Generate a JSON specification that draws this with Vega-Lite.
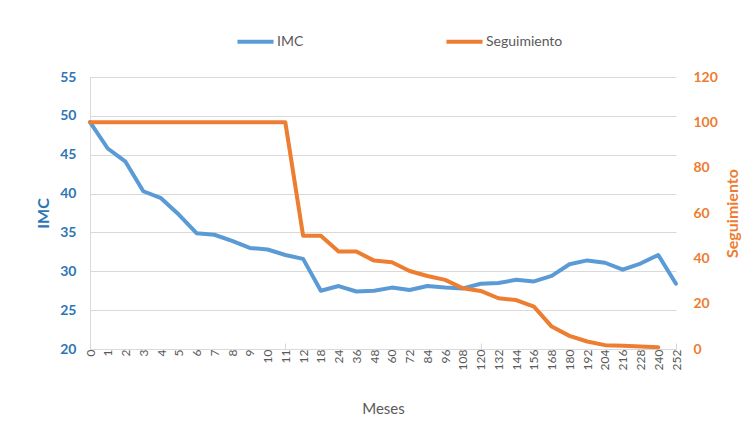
{
  "$schema": "https://vega.github.io/schema/vega-lite/v6.json",
  "width": 586,
  "height": 272,
  "autosize": {"type": "none"},
  "padding": {"left": 90, "top": 77, "right": 77, "bottom": 86},
  "background": "white",
  "config": {
    "font": "Lato",
    "view": {"stroke": null}
  },
  "data": {
    "values": [
      {"mes": "0", "IMC": 49.2, "Seguimiento": 100},
      {"mes": "1", "IMC": 45.8, "Seguimiento": 100},
      {"mes": "2", "IMC": 44.1, "Seguimiento": 100},
      {"mes": "3", "IMC": 40.3, "Seguimiento": 100},
      {"mes": "4", "IMC": 39.4, "Seguimiento": 100},
      {"mes": "5", "IMC": 37.3, "Seguimiento": 100},
      {"mes": "6", "IMC": 34.9, "Seguimiento": 100},
      {"mes": "7", "IMC": 34.7, "Seguimiento": 100},
      {"mes": "8", "IMC": 33.9, "Seguimiento": 100},
      {"mes": "9", "IMC": 33.0, "Seguimiento": 100},
      {"mes": "10", "IMC": 32.8, "Seguimiento": 100},
      {"mes": "11", "IMC": 32.1, "Seguimiento": 100},
      {"mes": "12", "IMC": 31.6, "Seguimiento": 50},
      {"mes": "18", "IMC": 27.5, "Seguimiento": 50},
      {"mes": "24", "IMC": 28.1, "Seguimiento": 43},
      {"mes": "36", "IMC": 27.4, "Seguimiento": 43},
      {"mes": "48", "IMC": 27.5, "Seguimiento": 39},
      {"mes": "60", "IMC": 27.9, "Seguimiento": 38.3},
      {"mes": "72", "IMC": 27.6, "Seguimiento": 34.4},
      {"mes": "84", "IMC": 28.1, "Seguimiento": 32.2},
      {"mes": "96", "IMC": 27.9, "Seguimiento": 30.5},
      {"mes": "108", "IMC": 27.8, "Seguimiento": 26.8},
      {"mes": "120", "IMC": 28.4, "Seguimiento": 25.6},
      {"mes": "132", "IMC": 28.5, "Seguimiento": 22.4},
      {"mes": "144", "IMC": 28.9, "Seguimiento": 21.6},
      {"mes": "156", "IMC": 28.7, "Seguimiento": 18.7},
      {"mes": "168", "IMC": 29.4, "Seguimiento": 9.9},
      {"mes": "180", "IMC": 30.9, "Seguimiento": 5.8},
      {"mes": "192", "IMC": 31.4, "Seguimiento": 3.3},
      {"mes": "204", "IMC": 31.1, "Seguimiento": 1.7},
      {"mes": "216", "IMC": 30.2, "Seguimiento": 1.4},
      {"mes": "228", "IMC": 31.0, "Seguimiento": 1.1},
      {"mes": "240", "IMC": 32.1, "Seguimiento": 0.8},
      {"mes": "252", "IMC": 28.4, "Seguimiento": null}
    ]
  },
  "encoding": {
    "x": {
      "field": "mes",
      "type": "ordinal",
      "sort": null,
      "scale": {"type": "point", "padding": 0},
      "axis": {
        "title": "Meses",
        "titleFont": "Lato",
        "titleFontSize": 15,
        "titleFontWeight": "normal",
        "titleColor": "#595959",
        "titlePadding": 32,
        "labelAngle": -90,
        "labelFontSize": 12,
        "labelColor": "#595959",
        "labelPadding": 6,
        "domainColor": "#D9D9D9",
        "tickColor": "#D9D9D9",
        "tickSize": -6,
        "tickOpacity": {"condition": {"test": "indexof(['0','11','120','252'], datum.value) >= 0", "value": 1}, "value": 0},
        "grid": false
      }
    }
  },
  "layer": [
    {
      "mark": {"type": "line", "strokeWidth": 4, "strokeJoin": "round", "strokeCap": "round"},
      "encoding": {
        "y": {
          "field": "IMC",
          "type": "quantitative",
          "scale": {"domain": [20, 55], "nice": false, "zero": false},
          "axis": {
            "title": "IMC",
            "titleColor": "#2E75B6",
            "titleFontSize": 16,
            "titleFontWeight": "bold",
            "titlePadding": 8,
            "values": [20, 25, 30, 35, 40, 45, 50, 55],
            "labelColor": "#2E75B6",
            "labelFontSize": 14,
            "labelFontWeight": "bold",
            "labelPadding": 14,
            "ticks": false,
            "domain": true,
            "domainColor": "#D9D9D9",
            "grid": true,
            "gridColor": "#D9D9D9"
          }
        },
        "color": {
          "datum": "IMC",
          "type": "nominal",
          "scale": {"domain": ["IMC", "Seguimiento"], "range": ["#5B9BD5", "#ED7D31"]},
          "legend": {
            "title": null,
            "orient": "none",
            "legendX": 145,
            "legendY": -56,
            "direction": "horizontal",
            "symbolType": "stroke",
            "symbolSize": 1300,
            "symbolStrokeWidth": 4,
            "labelFontSize": 14,
            "labelColor": "#595959",
            "labelOffset": 1,
            "columnPadding": 134
          }
        }
      }
    },
    {
      "mark": {"type": "line", "strokeWidth": 4, "strokeJoin": "round", "strokeCap": "round"},
      "encoding": {
        "y": {
          "field": "Seguimiento",
          "type": "quantitative",
          "scale": {"domain": [0, 120], "nice": false},
          "axis": {
            "orient": "right",
            "title": "Seguimiento",
            "titleColor": "#ED7D31",
            "titleFontSize": 16,
            "titleFontWeight": "bold",
            "titleAngle": 270,
            "titlePadding": 23,
            "values": [0, 20, 40, 60, 80, 100, 120],
            "labelColor": "#ED7D31",
            "labelFontSize": 14,
            "labelFontWeight": "bold",
            "labelPadding": 17,
            "ticks": false,
            "domain": false,
            "grid": false
          }
        },
        "color": {"datum": "Seguimiento", "type": "nominal"}
      }
    }
  ],
  "resolve": {"scale": {"y": "independent"}}
}
